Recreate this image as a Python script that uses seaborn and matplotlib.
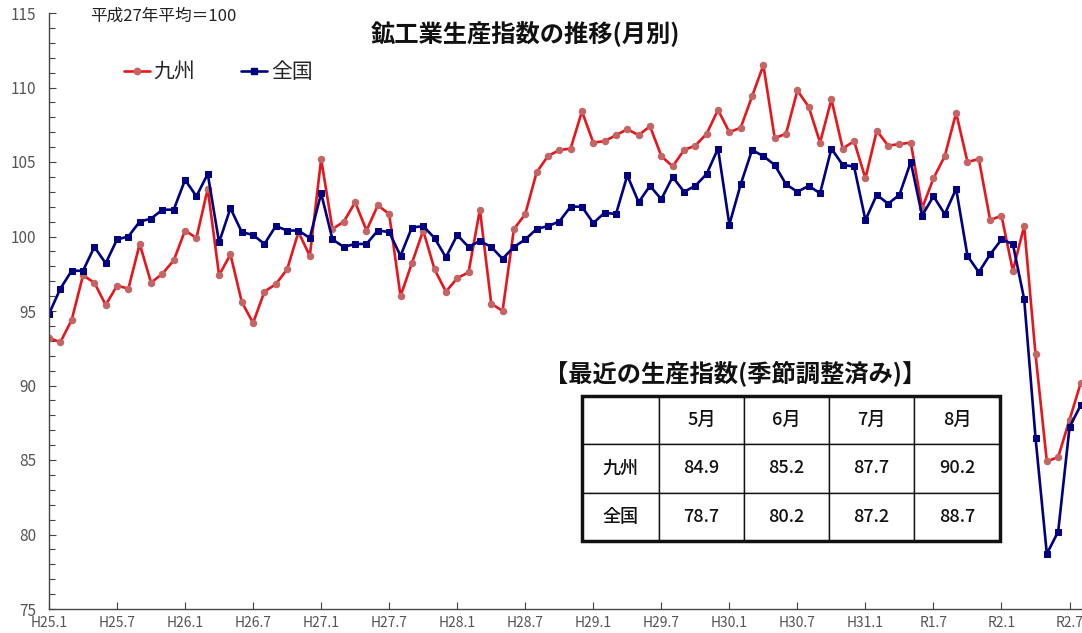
import numpy as np
import pandas as pd
import matplotlib
matplotlib.use('Agg')
import matplotlib.pyplot as plt
from matplotlib.ticker import MultipleLocator
from matplotlib.lines import Line2D
from matplotlib.patches import Rectangle
from matplotlib import font_manager
import seaborn as sns

# monthly index, H25.1 (2013-01) .. R2.8 (2020-08)
kyushu = [93.2, 92.9, 94.4, 97.4, 96.9, 95.4, 96.7, 96.5, 99.5, 96.9, 97.5, 98.4,
          100.4, 99.9, 103.2, 97.4, 98.8, 95.6, 94.2, 96.3, 96.8, 97.8, 100.3, 98.7,
          105.2, 100.5, 101.0, 102.3, 100.4, 102.1, 101.5, 96.0, 98.2, 100.4, 97.8, 96.3,
          97.2, 97.6, 101.8, 95.5, 95.0, 100.5, 101.5, 104.3, 105.4, 105.8, 105.9, 108.4,
          106.3, 106.4, 106.8, 107.2, 106.8, 107.4, 105.4, 104.7, 105.8, 106.1, 106.9, 108.5,
          107.0, 107.3, 109.4, 111.5, 106.6, 106.9, 109.8, 108.7, 106.3, 109.2, 105.9, 106.4,
          103.9, 107.1, 106.1, 106.2, 106.3, 101.9, 103.9, 105.4, 108.3, 105.0, 105.2, 101.1,
          101.4, 97.7, 100.7, 92.1, 84.9, 85.2, 87.7, 90.2]
zenkoku = [94.8, 96.5, 97.7, 97.7, 99.3, 98.2, 99.8, 100.0, 101.0, 101.2, 101.8, 101.8,
           103.8, 102.7, 104.2, 99.6, 101.9, 100.3, 100.1, 99.5, 100.7, 100.4, 100.4, 99.9,
           102.9, 99.8, 99.3, 99.5, 99.5, 100.4, 100.3, 98.7, 100.6, 100.7, 99.9, 98.6,
           100.1, 99.3, 99.7, 99.3, 98.5, 99.3, 99.8, 100.5, 100.7, 101.0, 102.0, 102.0,
           100.9, 101.6, 101.5, 104.1, 102.3, 103.4, 102.5, 104.0, 103.0, 103.4, 104.2, 105.9,
           100.8, 103.5, 105.8, 105.4, 104.8, 103.5, 103.0, 103.4, 102.9, 105.9, 104.8, 104.7,
           101.1, 102.8, 102.2, 102.8, 105.0, 101.4, 102.7, 101.5, 103.2, 98.7, 97.6, 98.8,
           99.8, 99.5, 95.8, 86.5, 78.7, 80.2, 87.2, 88.7]
tick_labels = ['H25.1', 'H25.7', 'H26.1', 'H26.7', 'H27.1', 'H27.7', 'H28.1', 'H28.7',
               'H29.1', 'H29.7', 'H30.1', 'H30.7', 'H31.1', 'R1.7', 'R2.1', 'R2.7']
table_months = ['5月', '6月', '7月', '8月']

sns.set_style('white')
plt.rcParams['font.family'] = ['Noto Sans CJK JP', 'DejaVu Sans']

installed = {f.name for f in font_manager.fontManager.ttflist}
tick_font = 'Liberation Sans Narrow' if 'Liberation Sans Narrow' in installed else 'Noto Sans CJK JP'

df = pd.DataFrame({'x': np.arange(len(kyushu)), '九州': kyushu, '全国': zenkoku})

fig = plt.figure(figsize=(10.82, 6.33), dpi=100)
ax = fig.add_axes([49 / 1082, 24 / 633, 1033 / 1082, 596 / 633])

red = '#e8161c'
red_mk = '#c46464'
navy = '#000080'

sns.lineplot(data=df, x='x', y='九州', ax=ax, color=red, linewidth=1.9,
             marker='o', markersize=4.6, markerfacecolor=red_mk, markeredgecolor=red_mk)
sns.lineplot(data=df, x='x', y='全国', ax=ax, color=navy, linewidth=1.9,
             marker='s', markersize=5, markerfacecolor=navy, markeredgecolor=navy)

ax.set_xlim(0, len(kyushu) - 0.9)
ax.set_ylim(75, 115)
ax.set_xlabel('')
ax.set_ylabel('')

ax.set_xticks(np.arange(0, len(kyushu), 6)[:len(tick_labels)])
ax.set_xticklabels(tick_labels, fontfamily=tick_font, fontsize=10, color='#555555')
ax.yaxis.set_major_locator(MultipleLocator(5))
ax.yaxis.set_minor_locator(MultipleLocator(1))
for lab in ax.get_yticklabels():
    lab.set_fontfamily(tick_font)
ax.tick_params(axis='y', which='major', direction='in', length=5, width=0.8,
               labelsize=11, labelcolor='#555555', pad=9, left=True, color='#444444')
ax.tick_params(axis='y', which='minor', direction='in', length=4, width=0.8,
               left=True, color='#444444')
ax.tick_params(axis='x', which='major', direction='in', length=5, width=0.8,
               bottom=True, pad=5, color='#444444')

for s in ['top', 'right']:
    ax.spines[s].set_visible(False)
for s in ['left', 'bottom']:
    ax.spines[s].set_color('#444444')
    ax.spines[s].set_linewidth(1.0)

handles = [Line2D([], [], color=red, lw=1.9, marker='o', markersize=4.6,
                  markerfacecolor=red_mk, markeredgecolor=red_mk),
           Line2D([], [], color=navy, lw=1.9, marker='s', markersize=5,
                  markerfacecolor=navy, markeredgecolor=navy)]
ax.legend(handles, ['九州', '全国'], loc='center left', bbox_to_anchor=(0.054, 0.901),
          ncol=2, frameon=False, fontsize=15, handlelength=1.25, handletextpad=0.2,
          columnspacing=2.2)

ax.text(0.04, 0.994, '平成27年平均＝100', transform=ax.transAxes, fontsize=12,
        ha='left', va='center', color='#222222')
ax.text(0.461, 0.966, '鉱工業生産指数の推移(月別)', transform=ax.transAxes, fontsize=17.5,
        fontweight='bold', ha='center', va='center', color='#111111')

# recent values table
ax.text(0.664, 0.394, '【最近の生産指数(季節調整済み)】', transform=ax.transAxes, fontsize=17.5,
        fontweight='bold', ha='center', va='center', color='#111111')

cells = [[''] + table_months,
         ['九州'] + [f'{v:.1f}' for v in kyushu[-4:]],
         ['全国'] + [f'{v:.1f}' for v in zenkoku[-4:]]]
tb_x, tb_y, tb_w, tb_h = (582 - 49) / 1033, (609 - 541) / 596, 418 / 1033, 145 / 596
tbl = ax.table(cellText=cells, cellLoc='center', bbox=[tb_x, tb_y, tb_w, tb_h],
               colWidths=[77, 85, 85, 85, 86])
tbl.auto_set_font_size(False)
for (r, c), cell in tbl.get_celld().items():
    cell.set_linewidth(1.0)
    cell.set_edgecolor('#111111')
    cell.set_facecolor('white')
    cell.get_text().set_fontsize(13)
    cell.get_text().set_color('#111111')
    cell.get_text().set_fontweight('medium')
ax.add_patch(Rectangle((tb_x, tb_y), tb_w, tb_h, transform=ax.transAxes, fill=False,
                       edgecolor='#111111', linewidth=2.5, zorder=10, clip_on=False))

fig.savefig('out.png', dpi=100)
